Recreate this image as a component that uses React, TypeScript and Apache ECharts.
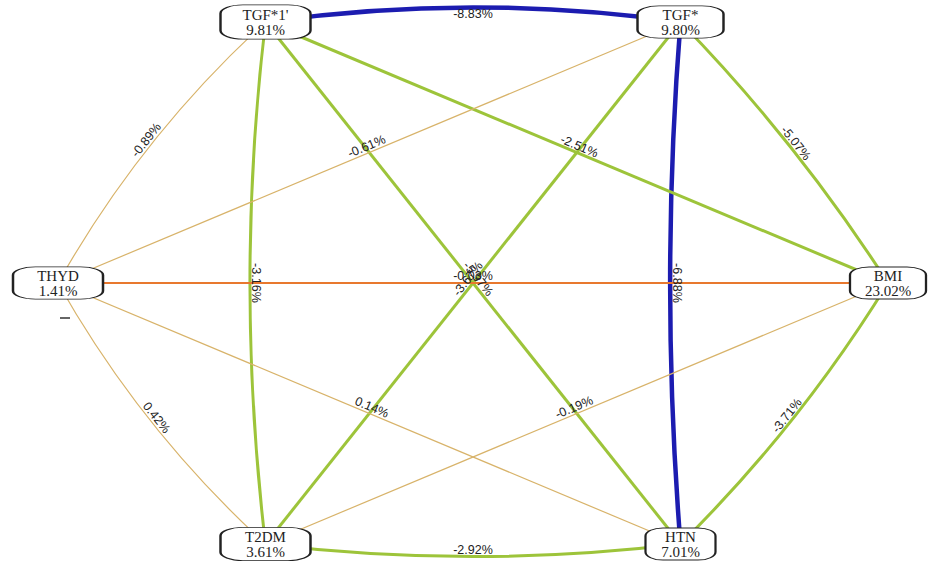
import React, { useEffect, useRef } from "react";
import * as echarts from "echarts";

// Nodes (hexagon order, angle in degrees on screen: 0 = right, y grows downward)
const nodeNames = ["TGF*1'", "TGF*", "BMI", "HTN", "T2DM", "THYD"];
const nodeShares = ["9.81", "9.80", "23.02", "7.01", "3.61", "1.41"];
const nodeAngles = [240, 300, 0, 60, 120, 180];
const nodeBoxes: [number, number][] = [
  [90, 34],
  [86, 32],
  [76, 32],
  [70, 32],
  [90, 33],
  [90, 32],
];

// Edges
const edgeSources = ["TGF*", "TGF*", "TGF*1'", "T2DM", "THYD", "THYD", "TGF*", "BMI", "TGF*1'", "TGF*1'", "TGF*", "THYD", "THYD", "THYD", "T2DM"];
const edgeTargets = ["TGF*1'", "HTN", "T2DM", "HTN", "TGF*1'", "T2DM", "BMI", "HTN", "BMI", "HTN", "T2DM", "TGF*", "BMI", "HTN", "BMI"];
const edgeValues = ["-8.83", "-6.88", "-3.16", "-2.92", "-0.89", "0.42", "-5.07", "-3.71", "-2.51", "-5.97", "-3.67", "-0.61", "-0.03", "0.14", "-0.19"];
const edgeKinds = ["strong", "strong", "mid", "mid", "weak", "weak", "mid", "mid", "mid", "mid", "mid", "weak", "cross", "weak", "weak"];
const edgeCurves = [-0.07, -0.04, -0.06, -0.06, 0.08, -0.08, 0.05, 0.06, 0, 0, 0, 0, 0, 0, 0];
const edgeLabelBelow = [true, false, false, false, false, false, false, false, false, false, false, false, false, false, false];

const kindColor: Record<string, string> = {
  strong: "#1c1cb0",
  mid: "#9dc43a",
  weak: "#d8b36a",
  cross: "#e8782e",
};
const kindWidth: Record<string, number> = {
  strong: 4.5,
  mid: 3,
  weak: 1.2,
  cross: 2.2,
};

const RX = 1.386;
const RY = 1;

export default function App() {
  const ref = useRef<HTMLDivElement>(null);
  useEffect(() => {
    if (!ref.current) return;
    const chart = echarts.init(ref.current, undefined, { renderer: "svg" });
    const nodes = nodeNames.map((name, i) => {
      const a = (nodeAngles[i] * Math.PI) / 180;
      return {
        name,
        value: nodeShares[i],
        x: Math.cos(a) * RX,
        y: Math.sin(a) * RY,
        symbolSize: nodeBoxes[i],
      };
    });
    const links = edgeSources.map((s, i) => ({
      source: s,
      target: edgeTargets[i],
      value: edgeValues[i],
      lineStyle: {
        color: kindColor[edgeKinds[i]],
        width: kindWidth[edgeKinds[i]],
        curveness: edgeCurves[i],
        opacity: 1,
      },
      ...(edgeLabelBelow[i]
        ? { label: { verticalAlign: "top", distance: -8 } }
        : {}),
    }));
    chart.setOption({
      animation: false,
      backgroundColor: "#ffffff",
      graphic: [
        {
          type: "line",
          shape: { x1: 60, y1: 318, x2: 70, y2: 318 },
          style: { stroke: "#333", lineWidth: 1.5 },
        },
      ],
      series: [
        {
          type: "graph",
          layout: "none",
          left: 58,
          top: 22,
          width: 830,
          height: 522,
          roam: false,
          symbol: "roundRect",
          itemStyle: { color: "#ffffff", borderColor: "#222222", borderWidth: 1.5 },
          label: {
            show: true,
            position: "inside",
            color: "#222222",
            fontFamily: "Liberation Serif",
            fontSize: 15,
            lineHeight: 15,
            formatter: (p: any) => `${p.name}\n${p.value}%`,
          },
          edgeLabel: {
            show: true,
            position: "middle",
            color: "#222222",
            fontFamily: "Liberation Sans",
            fontSize: 12.5,
            formatter: (p: any) => `${p.data.value}%`,
          },
          emphasis: { disabled: true },
          data: nodes,
          links,
        },
      ],
    });
    return () => chart.dispose();
  }, []);
  return (
    <div
      ref={ref}
      style={{ position: "absolute", left: 0, top: 0, width: 935, height: 566 }}
    />
  );
}
